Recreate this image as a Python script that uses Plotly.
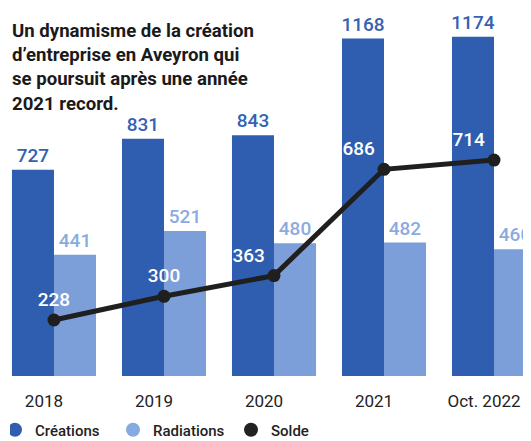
import plotly.graph_objects as go

categories = ["2018", "2019", "2020", "2021", "Oct. 2022"]
creations = [727, 831, 843, 1168, 1174]
radiations = [441, 521, 480, 482, 460]
solde = [228, 300, 363, 686, 714]
solde_positions = ["top center", "top center", "top left", "top left", "top left"]
legend_names = ["Créations", "Radiations", "Solde"]

C_DARK = "#2f5daf"
C_LIGHT = "#7c9fd9"
FONT = "Roboto"

fig = go.Figure()
fig.add_trace(go.Bar(
    x=categories, y=creations, marker_color=C_DARK, marker_line_width=0,
    text=creations, textposition="outside", constraintext="none", cliponaxis=False,
    textfont=dict(family=FONT, size=19, color="#3561b3", weight=500), showlegend=False,
))
fig.add_trace(go.Bar(
    x=categories, y=radiations, marker_color=C_LIGHT, marker_line_width=0,
    text=radiations, textposition="outside", constraintext="none", cliponaxis=False,
    textfont=dict(family=FONT, size=19, color="#8aabe0", weight=500), showlegend=False,
))
fig.add_trace(go.Scatter(
    x=categories, y=solde, yaxis="y2", mode="lines+markers+text",
    line=dict(color="#1f1f1f", width=5), marker=dict(color="#1f1f1f", size=13),
    text=solde, textposition=solde_positions, cliponaxis=False,
    textfont=dict(family=FONT, size=19, color="white", weight=500), showlegend=False,
))
# legend-only entries
for name, col in zip(legend_names, [C_DARK, "#86a9e0", "#222222"]):
    fig.add_trace(go.Scatter(x=[None], y=[None], mode="markers", name=name,
                             marker=dict(color=col, size=14, symbol="circle")))

fig.update_layout(
    width=531, height=441,
    margin=dict(l=0, r=0, t=0, b=73),
    paper_bgcolor="white", plot_bgcolor="white",
    barmode="group", bargap=0.236, bargroupgap=0,
    title=dict(
        text="Un dynamisme de la création<br>d’entreprise en Aveyron qui<br>se poursuit après une année<br>2021 record.",
        x=4 / 531, xanchor="left", xref="container", y=1 - 29 / 441, yanchor="top", yref="container",
        font=dict(family=FONT, size=18.6, color="#1a1a1a", weight="bold"),
    ),
    xaxis=dict(range=[-0.418, 4.409], showgrid=False, zeroline=False, showline=False, ticks="",
               tickfont=dict(family=FONT, size=17, color="#222"), ticklabelstandoff=13,
               ticklabelshift=-10),
    yaxis=dict(range=[33.6, 1270.6], visible=False),
    yaxis2=dict(range=[57.8, 1176.3], visible=False, overlaying="y"),
    legend=dict(orientation="h", x=2 / 531, xanchor="left", xref="container",
                y=19 / 441, yanchor="middle", yref="container", indentation=-15,
                font=dict(family=FONT, size=15, color="#222", weight=500), itemwidth=30,
                entrywidth=88, traceorder="normal"),
    showlegend=True,
)

fig.write_html("out.html")
